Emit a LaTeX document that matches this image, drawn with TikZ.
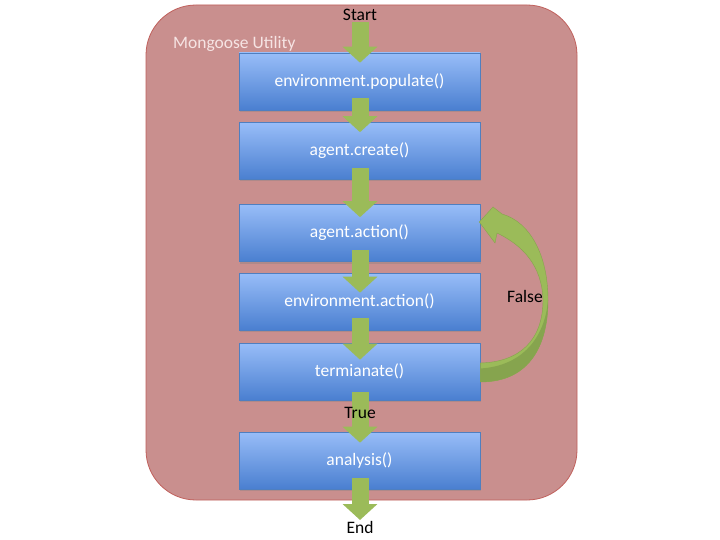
\documentclass[tikz,border=0pt]{standalone}
\usepackage{fontspec}
\setmainfont{Carlito}
\usetikzlibrary{arrows.meta,calc,shadows}
\definecolor{outerfill}{HTML}{C98F8E}
\definecolor{outerdraw}{HTML}{C0605C}
\definecolor{boxtop}{HTML}{98BDF8}
\definecolor{boxbot}{HTML}{4A7FD0}
\definecolor{boxdraw}{HTML}{4F7FC0}
\definecolor{grn}{HTML}{9BBB59}
\definecolor{grndark}{HTML}{86A44E}
\definecolor{pinktext}{HTML}{F6E4E4}
\begin{document}
\begin{tikzpicture}[x=1pt,y=-1pt,
  stepbox/.style={draw=boxdraw,line width=0.6pt,top color=boxtop,bottom color=boxbot,
    minimum width=241pt,minimum height=57pt,inner sep=0pt,text=white,
    font=\fontsize{17.5}{20}\selectfont,
    drop shadow={shadow xshift=1pt,shadow yshift=-2pt,opacity=0.35}},
  blockarrow/.style={draw=grn,line width=17pt,-{Triangle[length=16pt,width=34pt]}},
  plain/.style={font=\fontsize{17.5}{20}\selectfont,text=black,inner sep=0pt}]
\useasboundingbox (0,0) rectangle (720,540);
\fill[white] (0,0) rectangle (720,540);
\draw[fill=outerfill,draw=outerdraw,line width=0.8pt,rounded corners=50pt] (146,5) rectangle (577,500);
\node[font=\fontsize{17.5}{20}\selectfont,text=pinktext,anchor=west,inner sep=0pt] (title) at (173,44) {Mongoose Utility};

\node[stepbox] (b1) at (359.5,81.5) {environment.populate()};
\node[stepbox] (b2) at (359.5,151) {agent.create()};
\node[stepbox] (b3) at (359.5,233) {agent.action()};
\node[stepbox] (b4) at (359.5,301.5) {environment.action()};
\node[stepbox] (b5) at (359.5,371.5) {termianate()};
\node[stepbox] (b6) at (359.5,460.5) {analysis()};

\node[plain] (start) at (360,15) {Start};
\node[plain] (end) at (360,527) {End};
\coordinate (s0) at (360,22);
\coordinate (e0) at (360,520);

\draw[blockarrow] (s0) -- ($(b1.north)+(0.5,10)$);
\draw[blockarrow] ($(b1.south)+(0.5,-12)$) -- ($(b2.north)+(0.5,10)$);
\draw[blockarrow] ($(b2.south)+(0.5,-12)$) -- ($(b3.north)+(0.5,13)$);
\draw[blockarrow] ($(b3.south)+(0.5,-12)$) -- ($(b4.north)+(0.5,20)$);
\draw[blockarrow] ($(b4.south)+(0.5,-12)$) -- ($(b5.north)+(0.5,17)$);
\draw[blockarrow] ($(b5.south)+(0.5,-8)$) -- ($(b6.north)+(0.5,11)$);
\draw[blockarrow] ($(b6.south)+(0.5,-11)$) -- (e0);
\node[plain] (true) at (360,413) {True};

% curved "False" arrow from b5 back to b3
\fill[grn,draw=grndark,line width=0.4pt]
  ($(b5.east)+(0,10.5)$) .. controls (530,382) and (548,345) .. (548,300)
  .. controls (548,255) and (530,222) .. (502,214)
  -- (493,207) -- ($(b3.east)+(-1,-11)$) -- (495,243) -- (497,233)
  .. controls (522,245) and (542,265) .. (543,300)
  .. controls (543,340) and (520,362) .. ($(b5.east)+(0,-8.5)$) -- cycle;
\fill[grndark]
  ($(b5.east)+(0,10.5)$) .. controls (530,382) and (548,345) .. (548,300)
  .. controls (545,338) and (522,366) .. ($(b5.east)+(0,-3)$) -- cycle;
\node[plain] (false) at (525,296) {False};
\end{tikzpicture}
\end{document}
